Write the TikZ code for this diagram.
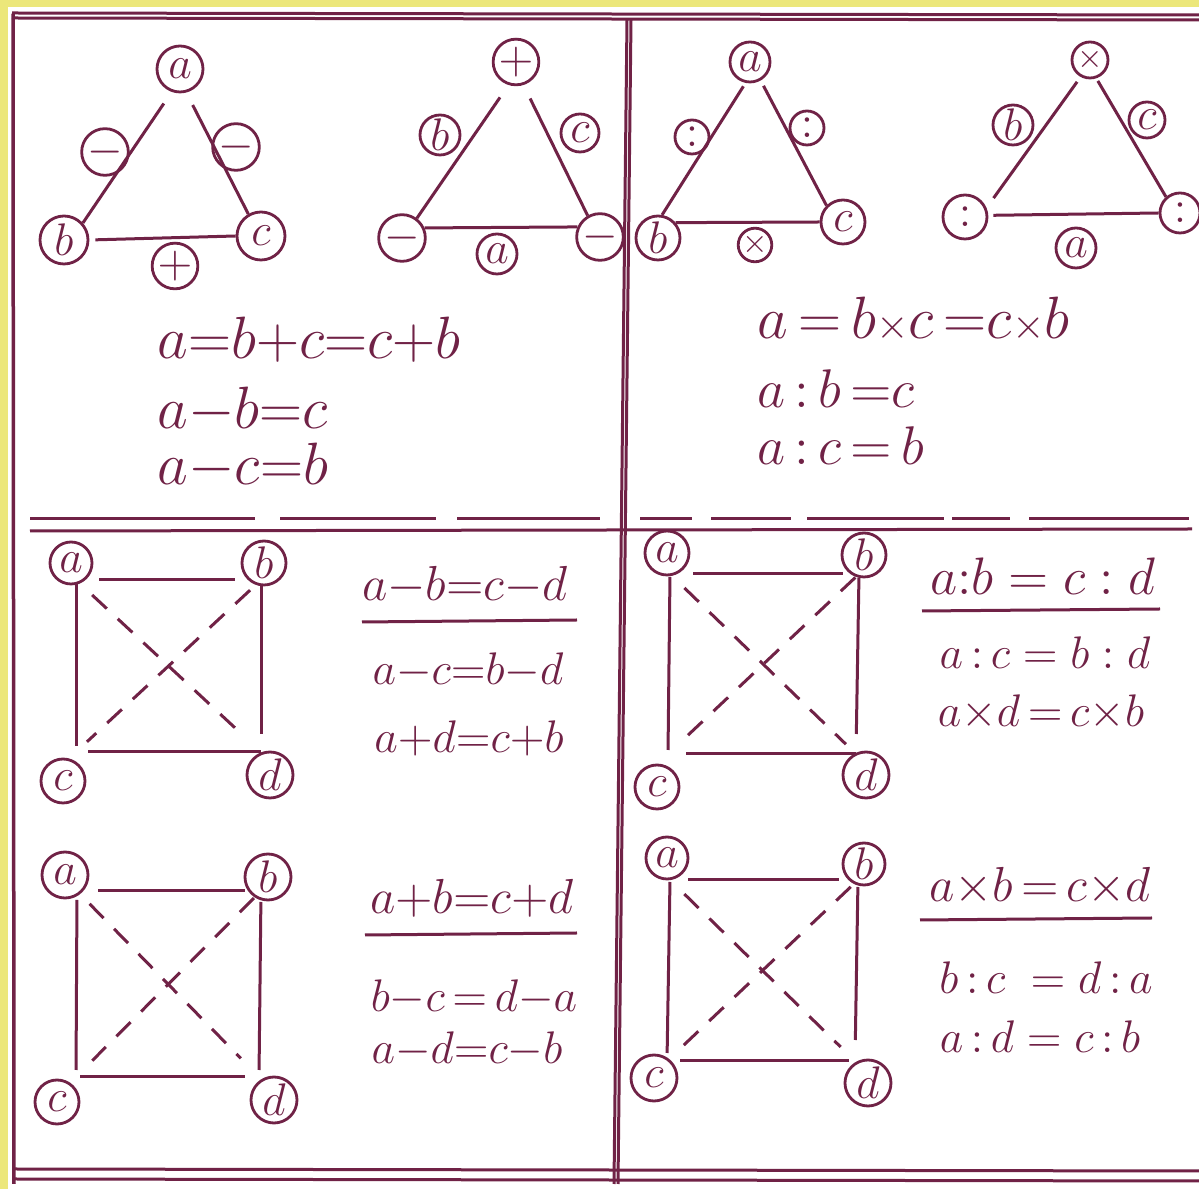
\RequirePackage{fix-cm}
\documentclass[tikz,border=0pt]{standalone}
\definecolor{ink}{RGB}{112,34,70}
\definecolor{paper}{RGB}{236,231,122}
\newcommand{\mul}{{\scriptstyle\times}}
\tikzset{
  vtx/.style={circle,draw=ink,line width=0.28mm,inner sep=0pt,minimum size=4.4mm,text=ink,font=\fontsize{13}{13}\selectfont},
  op/.style={vtx,minimum size=3.6mm},
  side/.style={draw=ink,line width=0.3mm},
  diag/.style={side,dash pattern=on 2mm off 1.5mm},
  rule/.style={draw=ink,line width=0.3mm},
  eqbig/.style={text=ink,inner sep=0pt,font=\fontsize{17}{17}\selectfont},
  eqmid/.style={text=ink,inner sep=0pt,font=\fontsize{15.5}{15.5}\selectfont},
  eqhead/.style={text=ink,inner sep=0pt,font=\fontsize{14}{14}\selectfont},
  eqsmall/.style={text=ink,inner sep=0pt,font=\fontsize{13}{13}\selectfont}
}
\begin{document}
\begin{tikzpicture}[x=0.1mm,y=-0.1mm]
\useasboundingbox (0,0) rectangle (1199,1189);
\fill[paper] (0,0) rectangle (1199,1189);
\fill[white] (8,7) rectangle (1199,1189);
\draw[rule] (12,13) -- (1199,15);
\draw[rule] (12,18) -- (1199,20);
\draw[rule,line width=0.35mm] (13,14) -- (14,1184);
\draw[rule] (627,20) -- (614,1184);
\draw[rule] (631,20) -- (618,1184);
\draw[rule] (15,1169) -- (1199,1171);
\draw[rule] (15,1179) -- (1199,1181);
\foreach \p/\q in {30/255,280/436,457/600,640/692,711/791,807/944,952/1010,1029/1189}
  \draw[rule] (\p,519) -- (\q,519);
\draw[rule] (30,531) -- (1192,529);

\node[vtx,minimum size=4.6mm] (t1a) at (180,69) {$a$};
\node[vtx,minimum size=4.8mm] (t1b) at (64,240) {$b$};
\node[vtx,minimum size=4.8mm] (t1c) at (261,236) {$c$};
\node[op,minimum size=3.8mm] (t1ab) at (105,152) {$-$};
\node[op,minimum size=3.8mm] (t1ac) at (236,147) {$-$};
\node[vtx,minimum size=4mm] (t1bc) at (175,266) {$+$};
\draw[side,shorten <=1.4mm] (t1a.250) -- (t1b.42);
\draw[side,shorten <=1.4mm] (t1a.285) -- (t1c.120);
\draw[side,shorten <=0.6mm] (t1b.east) -- (t1c.west);

\node[vtx,minimum size=4mm] (t2a) at (516,62) {$+$};
\node[vtx] (t2b) at (402,238) {$-$};
\node[vtx] (t2c) at (600,237) {$-$};
\node[vtx,minimum size=4mm] (t2ab) at (440,135) {$b$};
\node[vtx,minimum size=3.8mm] (t2ac) at (580,133) {$c$};
\node[vtx,minimum size=4mm] (t2bc) at (497,254) {$a$};
\draw[side,shorten <=1.5mm] (t2a.252) -- (t2b.53);
\draw[side,shorten <=1.5mm] (t2a.288) -- (t2c.120);
\draw[side] (t2b.24) -- (t2c.156);

\node[vtx,minimum size=4mm] (t3a) at (750,62) {$a$};
\node[vtx] (t3b) at (658,238) {$b$};
\node[vtx] (t3c) at (843,222) {$c$};
\node[op,minimum size=3.4mm] (t3ab) at (692,137) {$:$};
\node[op,minimum size=3.4mm] (t3ac) at (807,128) {$:$};
\node[op,minimum size=2.9mm] (t3bc) at (755,245) {$\mul$};
\draw[side,shorten <=0.4mm] (t3a.258) -- (t3b.80);
\draw[side,shorten <=0.6mm] (t3a.300) -- (t3c.135);
\draw[side] (t3b.41) -- (t3c.west);

\node[op] (t4a) at (1090,60) {$\mul$};
\node[vtx] (t4b) at (965,217) {$:$};
\node[vtx,minimum size=4mm] (t4c) at (1180,213) {$:$};
\node[vtx,minimum size=4mm] (t4ab) at (1013,125) {$b$};
\node[op] (t4ac) at (1147,120) {$c$};
\node[vtx,minimum size=4mm] (t4bc) at (1076,248) {$a$};
\draw[side,shorten <=0.6mm,shorten >=1.2mm] (t4a.241) -- (t4b.23);
\draw[side,shorten <=0.3mm] (t4a.289) -- (t4c.131);
\draw[side,shorten <=0.5mm] (t4b.4) -- (t4c.180);

\node[eqbig,anchor=west] (e1) at (157,340) {$a{=}b{+}c{=}c{+}b$};
\node[eqbig,anchor=west] (e2) at (157,410) {$a{-}b{=}c$};
\node[eqbig,anchor=west] (e3) at (157,466) {$a{-}c{=}b$};
\node[eqbig,anchor=west] (e4) at (757,320) {$a\,{=}\,b{\mul}c\,{=}c{\mul}b$};
\node[eqmid,anchor=west] (e5) at (757,389) {$a\,{:}\,b\,{=}c$};
\node[eqmid,anchor=west] (e6) at (757,446) {$a\,{:}\,c\,{=}\,b$};

\node[vtx,minimum size=4.2mm] (s1a) at (71,563) {$a$};
\node[vtx] (s1b) at (264,563) {$b$};
\node[vtx] (s1c) at (63,781) {$c$};
\node[vtx,minimum size=4.6mm] (s1d) at (270,775) {$d$};
\coordinate (s1A) at (76,580);
\coordinate (s1B) at (261,580);
\coordinate (s1C) at (76,752);
\coordinate (s1D) at (261,752);
\draw[side,shorten <=2.3mm,shorten >=2.6mm] (s1A) -- (s1B);
\draw[side,shorten <=0.4mm,shorten >=0.6mm] (s1A) -- (s1C);
\draw[side,shorten <=0.5mm,shorten >=1.8mm] (s1B) -- (s1D);
\draw[side,shorten <=1.2mm] (s1C) -- (s1D);
\draw[diag,shorten <=2.2mm,shorten >=2.6mm] (s1A) -- (s1D);
\draw[diag,shorten <=1.5mm,shorten >=1.5mm] (s1B) -- (s1C);
\node[eqhead] (h1) at (465,585) {$a{-}b{=}c{-}d$};
\draw[rule] (362,622) -- (577,620);
\node[eqsmall] (h1x) at (468,671) {$a{-}c{=}b{-}d$};
\node[eqsmall] (h1y) at (469,738) {$a{+}d{=}c{+}b$};

\node[vtx] (s2a) at (667,553) {$a$};
\node[vtx] (s2b) at (864,555) {$b$};
\node[vtx] (s2c) at (657,787) {$c$};
\node[vtx,minimum size=4.6mm] (s2d) at (866,775) {$d$};
\coordinate (s2A) at (670,574);
\coordinate (s2B) at (859,574);
\coordinate (s2C) at (668,754);
\coordinate (s2D) at (856,754);
\draw[side,shorten <=2.3mm,shorten >=1.6mm] (s2A) -- (s2B);
\draw[side,shorten <=0.3mm,shorten >=0.4mm] (s2A) -- (s2C);
\draw[side,shorten <=0.4mm,shorten >=2mm] (s2B) -- (s2D);
\draw[side,shorten <=1.8mm] (s2C) -- (s2D);
\draw[diag,shorten <=2mm,shorten >=1.4mm] (s2A) -- (s2D);
\draw[diag,shorten <=0.5mm,shorten >=1.3mm] (s2B) -- (s2C);
\node[eqhead,font=\fontsize{15}{15}\selectfont] (h2) at (1043,576) {$a{:}b\;{=}\;c\;{:}\;d$};
\draw[rule] (922,611) -- (1160,609);
\node[eqsmall] (h2x) at (1045,653) {$a\,{:}\,c\;{=}\;b\;{:}\;d$};
\node[eqsmall] (h2y) at (1041,713) {$a{\times}d\,{=}\,c{\times}b$};

\node[vtx,minimum size=4.6mm] (s3a) at (65,875) {$a$};
\node[vtx,minimum size=4.6mm] (s3b) at (268,877) {$b$};
\node[vtx] (s3c) at (57,1102) {$c$};
\node[vtx,minimum size=4.6mm] (s3d) at (274,1100) {$d$};
\coordinate (s3A) at (77,891);
\coordinate (s3B) at (261,891);
\coordinate (s3C) at (76,1077);
\coordinate (s3D) at (259,1077);
\draw[side,shorten <=2.1mm,shorten >=1.6mm] (s3A) -- (s3B);
\draw[side,shorten <=0.9mm,shorten >=0.7mm] (s3A) -- (s3C);
\draw[side,shorten <=1.1mm,shorten >=0.7mm] (s3B) -- (s3D);
\draw[side,shorten <=0.4mm,shorten >=1.4mm] (s3C) -- (s3D);
\draw[diag,shorten <=1.8mm,shorten >=2.6mm] (s3A) -- (s3D);
\draw[diag,shorten <=1mm,shorten >=2.3mm] (s3B) -- (s3C);
\node[eqhead] (h3) at (472,898) {$a{+}b{=}c{+}d$};
\draw[rule] (365,935) -- (577,933);
\node[eqsmall] (h3x) at (474,998) {$b{-}c\,{=}\,d{-}a$};
\node[eqsmall] (h3y) at (467,1050) {$a{-}d{=}c{-}b$};

\node[vtx,minimum size=4.2mm] (s4a) at (667,858) {$a$};
\node[vtx,minimum size=4.2mm] (s4b) at (864,864) {$b$};
\node[vtx,minimum size=4.6mm] (s4c) at (654,1078) {$c$};
\node[vtx,minimum size=4.6mm] (s4d) at (868,1083) {$d$};
\coordinate (s4A) at (670,880);
\coordinate (s4B) at (858,880);
\coordinate (s4C) at (667,1061);
\coordinate (s4D) at (855,1061);
\draw[side,shorten <=1.8mm,shorten >=1.9mm] (s4A) -- (s4B);
\draw[side,shorten <=0.2mm,shorten >=0.8mm] (s4A) -- (s4C);
\draw[side,shorten <=0.7mm,shorten >=2.1mm] (s4B) -- (s4D);
\draw[side,shorten <=1.3mm,shorten >=0.6mm] (s4C) -- (s4D);
\draw[diag,shorten <=2mm,shorten >=2mm] (s4A) -- (s4D);
\draw[diag,shorten <=1mm,shorten >=2mm] (s4B) -- (s4C);
\node[eqhead] (h4) at (1040,886) {$a{\times}b\,{=}\,c{\times}d$};
\draw[rule] (920,920) -- (1152,918);
\node[eqsmall] (h4x) at (1046,978) {$b\,{:}\,c\;\;{=}\;d\,{:}\,a$};
\node[eqsmall] (h4y) at (1040,1037) {$a\,{:}\,d\;{=}\;c\,{:}\,b$};
\end{tikzpicture}
\end{document}
